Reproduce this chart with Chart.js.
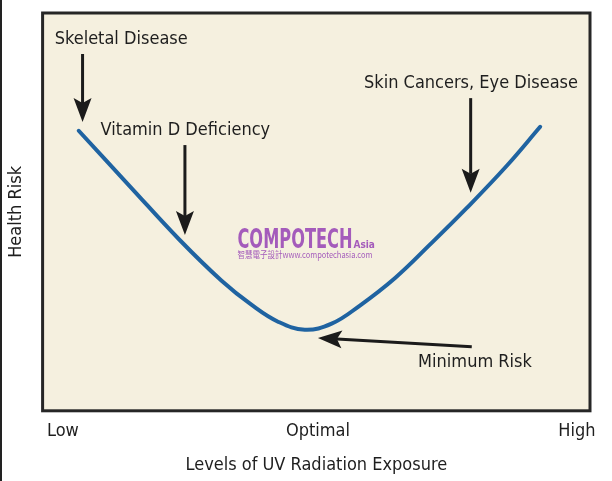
<!DOCTYPE html>
<html>
<head>
<meta charset="utf-8">
<script src="https://cdn.jsdelivr.net/npm/chart.js@4"></script>
<style>
  html, body { margin: 0; padding: 0; background: #ffffff; }
  #wrap { width: 612px; height: 481px; position: relative; }
</style>
</head>
<body>
<div id="wrap"><canvas id="c" width="612" height="481"></canvas></div>
<script>
// ---- data ----
const exposureX = [6.6, 15.9, 25.0, 32.7, 38.2, 43.0, 47.9, 52.8, 57.9, 64.4, 70.7, 77.5, 84.8, 90.9];
const healthRiskY = [70.4, 56.5, 43.0, 32.7, 26.6, 22.4, 20.4, 21.9, 26.4, 33.4, 41.7, 51.0, 61.6, 71.4];
const tickValues = [3.7, 50.3, 97.6];
const tickLabels = ['Low', 'Optimal', 'High'];
const annotationTexts = ['Skeletal Disease', 'Vitamin D Deficiency', 'Skin Cancers, Eye Disease', 'Minimum Risk'];
const xTitle = 'Levels of UV Radiation Exposure';
const yTitle = 'Health Risk';
const watermarkMain = 'COMPOTECH';
const watermarkSmall = 'Asia';
const watermarkSub = '智慧電子設計www.compotechasia.com';

// ---- layout / style config (data units via scales) ----
const FONT = "'DejaVu Sans Condensed', 'DejaVu Sans', sans-serif";
const annotationLayout = [
  { text: 0, tx: 2.2, ty: 93.5, align: 'left', arrow: [7.3, 89.7, 7.3, 72.6] },
  { text: 1, tx: 10.6, ty: 70.6, align: 'left', arrow: [26.0, 66.8, 26.0, 44.2] },
  { text: 2, tx: 97.8, ty: 82.4, align: 'right', arrow: [78.2, 78.6, 78.2, 54.8] },
  { text: 3, tx: 68.6, ty: 12.3, align: 'left', arrow: [78.4, 16.1, 50.3, 18.3] }
];
const watermarkPos = { x: 35.6, y1: 41.0, y2: 38.3 };

const pairs = exposureX.map((x, i) => ({ x: x, y: healthRiskY[i] }));

function drawArrow(ctx, x1, y1, x2, y2) {
  const ang = Math.atan2(y2 - y1, x2 - x1);
  const len = 24, half = 9, notch = 5;
  const bx = x2 - len * Math.cos(ang), by = y2 - len * Math.sin(ang);
  ctx.save();
  ctx.strokeStyle = '#1b1b1b';
  ctx.fillStyle = '#1b1b1b';
  ctx.lineWidth = 3;
  ctx.beginPath();
  ctx.moveTo(x1, y1);
  ctx.lineTo(bx + notch * Math.cos(ang), by + notch * Math.sin(ang));
  ctx.stroke();
  const px = -Math.sin(ang), py = Math.cos(ang);
  ctx.beginPath();
  ctx.moveTo(x2, y2);
  ctx.lineTo(bx + half * px, by + half * py);
  ctx.lineTo(bx + notch * Math.cos(ang), by + notch * Math.sin(ang));
  ctx.lineTo(bx - half * px, by - half * py);
  ctx.closePath();
  ctx.fill();
  ctx.restore();
}

const decor = {
  id: 'decor',
  beforeDraw(chart) {
    const { ctx, chartArea: a } = chart;
    ctx.save();
    ctx.fillStyle = '#ffffff';
    ctx.fillRect(0, 0, chart.width, chart.height);
    ctx.fillStyle = '#f5f0df';
    ctx.fillRect(a.left, a.top, a.right - a.left, a.bottom - a.top);
    ctx.fillStyle = '#222222';
    ctx.fillRect(0, 0, 2, chart.height);
    // watermark
    const xs = chart.scales.x, ys = chart.scales.y;
    const wx = xs.getPixelForValue(watermarkPos.x);
    const wy1 = ys.getPixelForValue(watermarkPos.y1);
    const wy2 = ys.getPixelForValue(watermarkPos.y2);
    ctx.fillStyle = '#a45bbb';
    ctx.textBaseline = 'alphabetic';
    ctx.textAlign = 'left';
    ctx.font = "bold 26px 'DejaVu Sans Condensed', sans-serif";
    const mw = ctx.measureText(watermarkMain).width;
    ctx.save();
    ctx.translate(wx, wy1);
    ctx.scale(115 / mw, 1);
    ctx.fillText(watermarkMain, 0, 0);
    ctx.restore();
    ctx.font = "bold 10px 'DejaVu Sans Condensed', sans-serif";
    ctx.fillText(watermarkSmall, wx + 116, wy1);
    ctx.font = "9px 'Noto Sans CJK TC', 'DejaVu Sans Condensed', sans-serif";
    const sw = ctx.measureText(watermarkSub).width;
    ctx.save();
    ctx.translate(wx, wy2);
    ctx.scale(135 / sw, 1);
    ctx.fillText(watermarkSub, 0, 0);
    ctx.restore();
    ctx.restore();
  },
  afterDraw(chart) {
    const { ctx, chartArea: a } = chart;
    const xs = chart.scales.x, ys = chart.scales.y;
    ctx.save();
    ctx.strokeStyle = '#262626';
    ctx.lineWidth = 3;
    ctx.strokeRect(a.left, a.top, a.right - a.left, a.bottom - a.top);
    ctx.font = '18px ' + FONT;
    ctx.fillStyle = '#1e1e1e';
    ctx.textBaseline = 'middle';
    annotationLayout.forEach(an => {
      ctx.textAlign = an.align;
      ctx.fillText(annotationTexts[an.text], xs.getPixelForValue(an.tx), ys.getPixelForValue(an.ty));
      drawArrow(ctx,
        xs.getPixelForValue(an.arrow[0]), ys.getPixelForValue(an.arrow[1]),
        xs.getPixelForValue(an.arrow[2]), ys.getPixelForValue(an.arrow[3]));
    });
    ctx.restore();
  }
};

new Chart(document.getElementById('c'), {
  type: 'line',
  data: {
    datasets: [{
      data: pairs,
      borderColor: '#1f63a1',
      borderWidth: 4,
      pointRadius: 0,
      tension: 0.4,
      borderCapStyle: 'round',
      borderJoinStyle: 'round',
      fill: false
    }]
  },
  options: {
    responsive: false,
    animation: false,
    devicePixelRatio: 1,
    layout: { padding: { left: 0, top: 13, right: 22, bottom: 0 } },
    plugins: { legend: { display: false }, tooltip: { enabled: false } },
    scales: {
      x: {
        type: 'linear', min: 0, max: 100,
        grid: { display: false, drawTicks: false },
        border: { display: false },
        afterBuildTicks: s => { s.ticks = tickValues.map(v => ({ value: v })); },
        ticks: {
          padding: 10,
          maxRotation: 0,
          autoSkip: false,
          color: '#1e1e1e',
          font: { family: FONT, size: 18 },
          callback: (v, i) => tickLabels[i]
        },
        title: {
          display: true, text: xTitle, color: '#1e1e1e',
          font: { family: FONT, size: 18 },
          padding: { top: 2, bottom: 5 }
        }
      },
      y: {
        type: 'linear', min: 0, max: 100,
        grid: { display: false, drawTicks: false },
        border: { display: false },
        ticks: { display: false },
        title: {
          display: true, text: yTitle, color: '#1e1e1e',
          font: { family: FONT, size: 18 },
          padding: { top: 6, bottom: 15 }
        }
      }
    }
  },
  plugins: [decor]
});
</script>
</body>
</html>
